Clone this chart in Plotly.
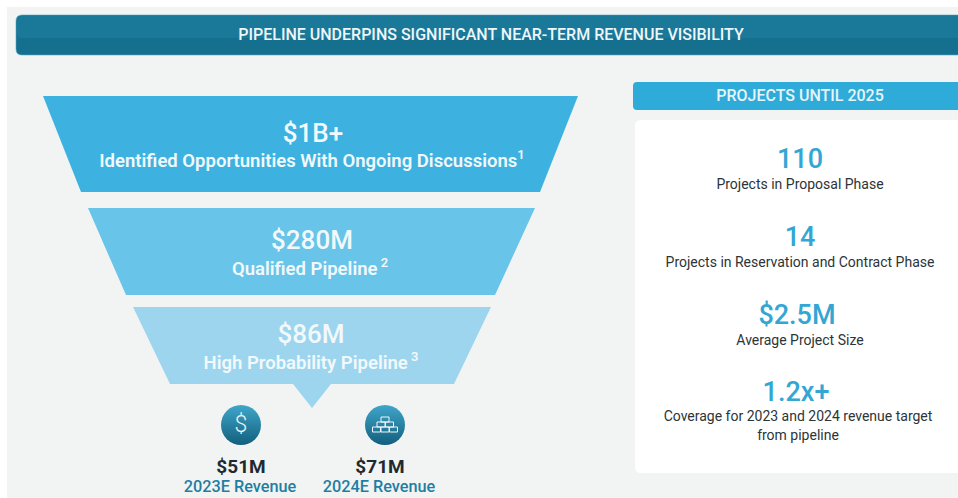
import plotly.graph_objects as go

# ---- content ----
header_title = "PIPELINE UNDERPINS SIGNIFICANT NEAR-TERM REVENUE VISIBILITY"
panel_title = "PROJECTS UNTIL 2025"
funnel_values = ["$1B+", "$280M", "$86M"]
funnel_labels = ["Identified Opportunities With Ongoing Discussions<sup>1</sup>",
                 "Qualified Pipeline<sup> 2</sup>",
                 "High Probability Pipeline<sup> 3</sup>"]
revenue_values = ["$51M", "$71M"]
revenue_labels = ["2023E Revenue", "2024E Revenue"]
stat_values = ["110", "14", "$2.5M", "1.2x+"]
stat_labels = ["Projects in Proposal Phase",
               "Projects in Reservation and Contract Phase",
               "Average Project Size",
               "Coverage for 2023 and 2024 revenue target<br>from pipeline"]

# ---- layout geometry (page pixels) ----
W, H = 958, 498
funnel_colors = ["#3db2e0", "#68c4e8", "#9dd5ee"]
funnel_geom = [(96, 192, 43, 578, 81, 540), (208, 295, 88, 535, 126, 495), (307, 384, 133, 491, 170, 454)]
FONT = "Roboto"
DARK = "#1f2a30"


def rrect(x0, y0, x1, y1, r):
    return (f"M{x0+r},{y0} L{x1-r},{y0} Q{x1},{y0} {x1},{y0+r} L{x1},{y1-r} Q{x1},{y1} {x1-r},{y1} "
            f"L{x0+r},{y1} Q{x0},{y1} {x0},{y1-r} L{x0},{y0+r} Q{x0},{y0} {x0+r},{y0} Z")


shapes = [dict(type="rect", x0=7, y0=7, x1=W, y1=H, fillcolor="#f2f4f4", line_width=0, layer="below")]
# header with a slight vertical shading
shapes.append(dict(type="path", path=rrect(16, 15, W + 6, 55, 6), fillcolor="#15708f", line=dict(color="#5aa9c2", width=0.6), layer="below"))
shapes.append(dict(type="path", path=rrect(17, 16, W + 6, 38, 5), fillcolor="#1a7899", line_width=0, layer="below"))
# panel
shapes.append(dict(type="path", path=rrect(633, 82, W + 6, 110, 4), fillcolor="#2fabd9", line_width=0, layer="below"))
shapes.append(dict(type="path", path=rrect(635, 120, W + 6, 473, 6), fillcolor="#ffffff", line_width=0, layer="below"))
# funnel
for i, (c, g) in enumerate(zip(funnel_colors, funnel_geom)):
    y0, y1, a, b, cc, d = g
    if i == 2:
        p = f"M{a},{y0} L{b},{y0} L{d},{y1} L331,{y1} L312,408 L293,{y1} L{cc},{y1} Z"
    else:
        p = f"M{a},{y0} L{b},{y0} L{d},{y1} L{cc},{y1} Z"
    shapes.append(dict(type="path", path=p, fillcolor=c, line_width=0, layer="below"))
# building-blocks icon
for (bx, by) in [(376.5, 427), (385, 427), (393.5, 427), (381, 422), (389.5, 422), (385, 417)]:
    shapes.append(dict(type="rect", x0=bx - 4, x1=bx + 4, y0=by, y1=by + 5,
                       line=dict(color="#f0f7fa", width=1), fillcolor="rgba(0,0,0,0)", layer="above"))

fig = go.Figure()


def txt(xs, ys, texts, size, color, weight=400):
    fig.add_trace(go.Scatter(x=xs, y=ys, text=texts, mode="text", textposition="middle center",
                             textfont=dict(family=FONT, size=size, color=color, weight=weight),
                             hoverinfo="skip", showlegend=False))


# circles with vertical gradient
fig.add_trace(go.Scatter(x=[241, 385], y=[425, 425], mode="markers", hoverinfo="skip", showlegend=False,
                         marker=dict(size=40, color="#3fa6c9", line_width=0,
                                     gradient=dict(type="vertical", color="#135f7e"))))
txt([241], [426], ["$"], 23, "#e8f4f8", 300)

txt([491], [36], [header_title], 16, "#eef6f8", 500)
txt([800], [97], [panel_title], 16, "#e6f5fb", 500)

txt([313, 312, 311], [135, 242, 336], funnel_values, 26, "#f2f9fc", 500)
txt([312, 310, 311], [162, 270, 364], funnel_labels, 18.5, "#f2f9fc", 600)

txt([241, 380], [468, 468], revenue_values, 19, DARK, 700)
txt([240, 379], [488, 488], revenue_labels, 16.3, "#1f7ea2", 500)

txt([800, 800, 797, 796], [161, 239, 317, 394], stat_values, 27, "#33a6d4", 500)
txt([800, 800, 800, 798], [185, 263, 341, 427], stat_labels, 14, "#2c3438", 400)

fig.update_layout(
    width=W, height=H, margin=dict(l=0, r=0, t=0, b=0), paper_bgcolor="#ffffff", plot_bgcolor="rgba(0,0,0,0)",
    xaxis=dict(range=[0, W], visible=False, fixedrange=True),
    yaxis=dict(range=[H, 0], visible=False, fixedrange=True),
    shapes=shapes, showlegend=False, hovermode=False,
)
fig.write_html("out.html", config={"displayModeBar": False},
               post_script="document.body.style.margin='0';")
